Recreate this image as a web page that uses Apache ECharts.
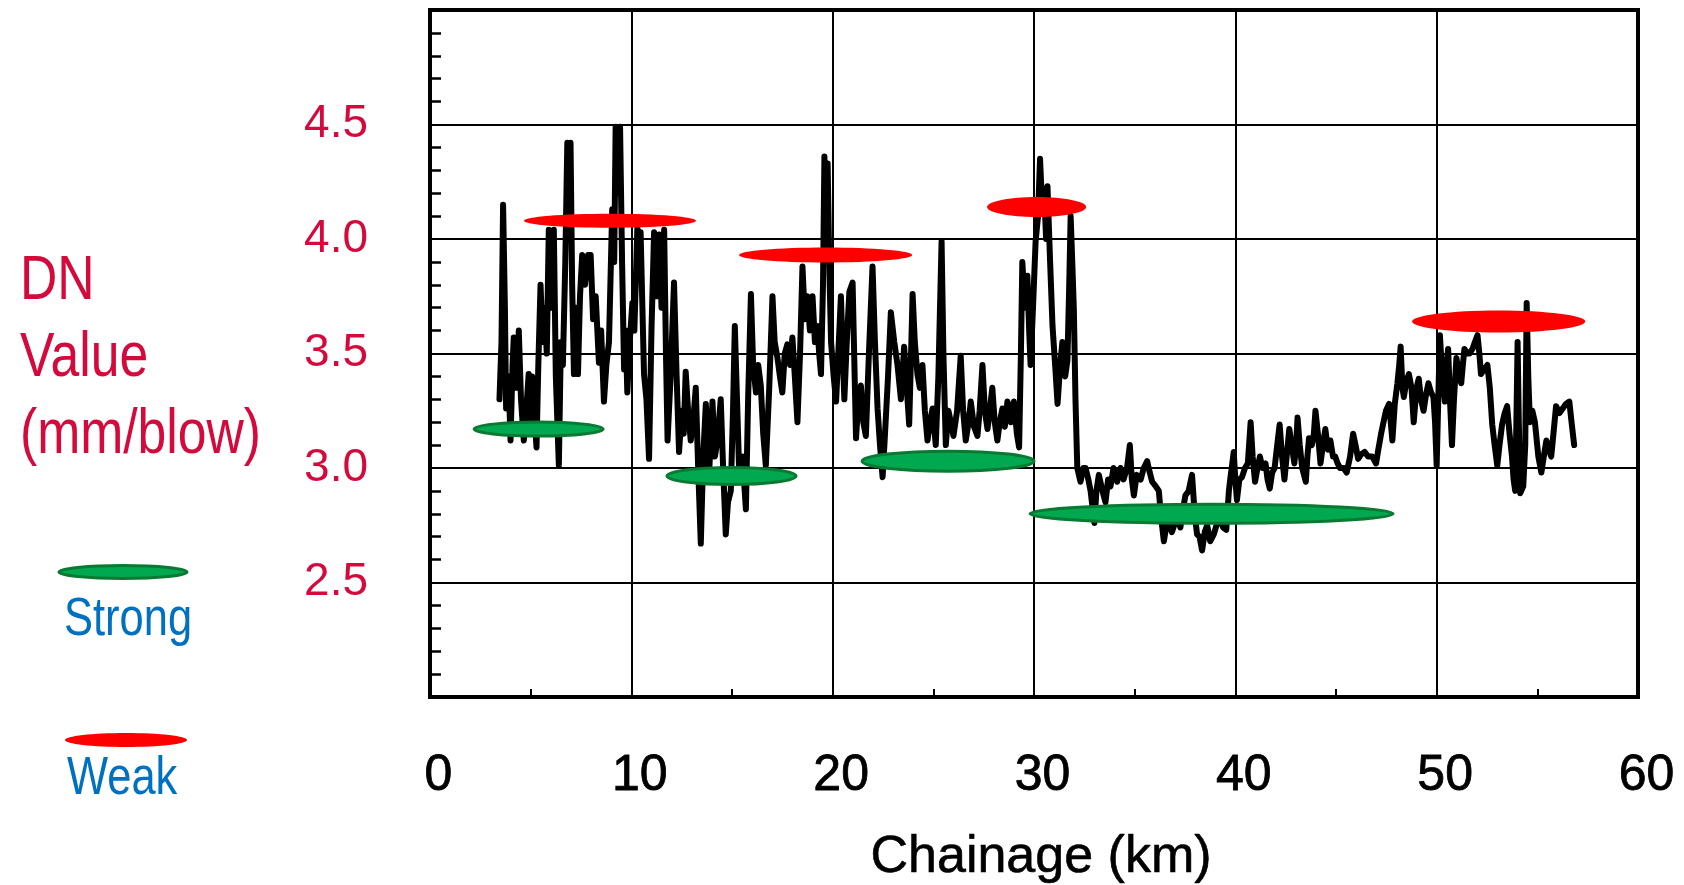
<!DOCTYPE html>
<html>
<head>
<meta charset="utf-8">
<script src="https://cdn.jsdelivr.net/npm/echarts@6/dist/echarts.min.js"></script>
<style>
html,body{margin:0;padding:0;background:#ffffff;}
#chart{width:1684px;height:885px;}
</style>
</head>
<body>
<div id="chart"></div>
<script>
// ---- data ----
const chainage = [
3.45,3.55,3.63,3.72,3.78,3.90,4.00,4.10,4.16,4.28,4.41,4.52,4.66,4.78,4.90,5.00,5.07,5.18,5.29,5.38,
5.49,5.60,5.70,5.80,5.90,6.02,6.15,6.25,6.40,6.50,6.60,6.72,6.82,6.90,6.98,7.06,7.15,7.25,7.35,7.45,
7.56,7.70,7.85,7.98,8.10,8.23,8.39,8.50,8.64,8.76,8.89,9.05,9.15,9.22,9.33,9.44,9.54,9.64,9.72,9.80,
9.92,10.05,10.15,10.30,10.38,10.46,10.55,10.63,10.75,10.88,11.00,11.13,11.25,11.38,11.50,11.63,11.72,11.80,11.95,12.12,
12.25,12.37,12.50,12.60,12.70,12.82,12.95,13.07,13.20,13.32,13.45,13.57,13.70,13.86,14.03,14.15,14.28,14.44,14.56,14.69,
14.80,14.94,15.05,15.14,15.25,15.36,15.52,15.69,15.80,15.94,16.05,16.19,16.30,16.43,16.55,16.68,16.85,17.01,17.12,17.26,
17.38,17.50,17.62,17.75,17.88,18.00,18.12,18.25,18.38,18.50,18.62,18.74,18.87,19.00,19.12,19.24,19.33,19.42,19.52,19.59,
19.67,19.75,19.84,19.92,20.05,20.17,20.28,20.41,20.50,20.58,20.70,20.83,20.99,21.16,21.28,21.40,21.52,21.65,21.80,21.98,
22.10,22.23,22.35,22.48,22.60,22.75,22.89,23.06,23.22,23.39,23.55,23.68,23.80,23.88,23.97,24.08,24.21,24.33,24.46,24.58,
24.71,24.84,24.96,25.12,25.25,25.41,25.50,25.62,25.75,25.87,26.00,26.18,26.36,26.48,26.61,26.75,26.86,27.02,27.19,27.30,
27.44,27.56,27.69,27.80,27.93,28.05,28.18,28.30,28.43,28.55,28.68,28.85,29.00,29.15,29.26,29.35,29.42,29.55,29.67,29.76,
29.83,29.95,30.08,30.20,30.30,30.40,30.50,30.60,30.67,30.80,30.92,31.05,31.17,31.30,31.41,31.55,31.66,31.75,31.82,31.90,
31.98,32.06,32.15,32.31,32.45,32.56,32.70,32.81,33.00,33.10,33.22,33.40,33.55,33.68,33.80,33.95,34.13,34.30,34.45,34.62,
34.76,34.86,34.96,35.10,35.30,35.45,35.62,35.75,35.87,36.05,36.20,36.32,36.45,36.58,36.70,36.85,37.00,37.15,37.27,37.40,
37.52,37.68,37.85,37.98,38.10,38.22,38.35,38.48,38.60,38.75,38.93,39.10,39.26,39.40,39.55,39.68,39.76,39.85,39.92,40.00,
40.08,40.20,40.33,40.48,40.62,40.76,40.86,40.98,41.10,41.22,41.35,41.50,41.60,41.71,41.83,41.95,42.08,42.20,42.32,42.44,
42.55,42.68,42.80,42.93,43.02,43.09,43.20,43.32,43.50,43.58,43.66,43.80,43.90,43.98,44.10,44.23,44.35,44.47,44.60,44.72,
44.85,44.96,45.08,45.20,45.38,45.53,45.70,45.85,45.97,46.10,46.25,46.42,46.60,46.80,46.99,47.10,47.24,47.36,47.48,47.64,
47.72,47.80,47.92,48.05,48.14,48.21,48.30,48.37,48.50,48.62,48.75,48.86,49.00,49.11,49.22,49.35,49.47,49.59,49.72,49.84,
49.92,50.00,50.08,50.16,50.28,50.41,50.49,50.57,50.66,50.76,50.86,50.98,51.10,51.22,51.30,51.38,51.50,51.63,51.78,51.90,
52.03,52.12,52.20,52.35,52.52,52.64,52.76,52.88,53.01,53.12,53.25,53.38,53.50,53.62,53.74,53.82,53.90,53.96,54.02,54.08,
54.15,54.30,54.40,54.47,54.55,54.63,54.75,54.88,55.05,55.20,55.32,55.45,55.57,55.69,55.80,55.93,56.10,56.26,56.42,56.59,
56.70,56.83
];
const dnValue = [
3.30,3.55,4.15,3.70,3.26,3.40,3.12,3.45,3.57,3.35,3.60,3.30,3.12,3.25,3.41,3.20,3.40,3.25,3.09,3.45,
3.80,3.55,3.70,3.50,4.04,3.70,4.04,3.40,3.01,3.55,3.45,3.90,4.42,4.10,4.42,3.80,3.41,3.70,3.41,3.75,
3.93,3.80,3.93,3.93,3.65,3.75,3.46,3.60,3.29,3.45,3.55,4.13,3.90,4.49,4.20,4.49,3.90,3.43,3.60,3.33,
3.55,3.72,3.60,4.05,3.85,4.03,3.70,3.41,3.30,3.04,3.60,4.03,3.75,4.02,3.70,4.04,3.50,3.12,3.40,3.81,
3.40,3.07,3.25,3.15,3.42,3.25,3.12,3.20,3.35,3.00,2.67,3.05,3.28,2.97,3.29,3.05,3.12,3.30,3.00,2.71,
2.85,2.90,3.25,3.62,3.30,2.97,3.05,2.82,3.30,3.76,3.45,3.33,3.45,3.36,3.15,3.01,3.35,3.75,3.55,3.48,
3.40,3.33,3.50,3.54,3.45,3.57,3.40,3.20,3.50,3.88,3.65,3.75,3.60,3.75,3.55,3.62,3.50,3.41,3.80,4.36,
4.00,4.33,3.85,3.55,3.40,3.29,3.50,3.75,3.50,3.30,3.55,3.77,3.81,3.13,3.30,3.36,3.20,3.14,3.50,3.88,
3.55,3.26,3.10,2.96,3.15,3.40,3.68,3.55,3.45,3.30,3.53,3.35,3.19,3.45,3.76,3.55,3.41,3.35,3.45,3.25,
3.12,3.20,3.26,3.10,3.40,3.99,3.50,3.10,3.25,3.20,3.14,3.25,3.49,3.25,3.12,3.20,3.29,3.18,3.14,3.25,
3.45,3.25,3.17,3.25,3.35,3.20,3.12,3.20,3.26,3.18,3.29,3.20,3.29,3.15,3.09,3.50,3.90,3.70,3.84,3.60,
3.45,3.70,3.99,4.10,4.35,4.15,4.22,4.00,4.23,3.90,3.62,3.45,3.28,3.45,3.55,3.40,3.47,3.80,4.10,3.90,
3.69,3.30,3.00,2.94,3.00,3.00,2.95,2.90,2.76,2.90,2.97,2.90,2.85,2.95,2.92,3.00,2.94,3.00,2.95,3.00,
3.10,2.95,2.88,2.97,2.95,3.00,3.03,2.98,2.94,2.92,2.90,2.78,2.68,2.75,2.77,2.72,2.76,2.78,2.74,2.82,
2.88,2.90,2.97,2.80,2.71,2.70,2.64,2.72,2.75,2.68,2.71,2.76,2.77,2.74,2.73,2.90,2.96,3.02,3.07,2.95,
2.86,2.95,2.96,3.00,3.02,3.20,3.05,2.94,3.00,3.05,3.00,3.02,2.95,2.91,2.98,3.00,3.10,3.19,3.05,2.95,
3.05,3.17,3.10,3.02,3.10,3.22,3.10,3.00,2.94,3.05,3.13,3.10,3.15,3.25,3.15,3.02,3.10,3.17,3.08,3.12,
3.05,3.05,3.02,3.00,3.00,2.98,3.05,3.15,3.10,3.04,3.06,3.07,3.05,3.05,3.02,3.08,3.15,3.20,3.25,3.28,
3.20,3.12,3.28,3.37,3.45,3.53,3.35,3.31,3.38,3.41,3.35,3.20,3.35,3.39,3.30,3.25,3.32,3.37,3.33,3.31,
3.20,3.01,3.30,3.58,3.40,3.29,3.45,3.52,3.30,3.10,3.30,3.48,3.42,3.37,3.45,3.52,3.50,3.50,3.52,3.55,
3.58,3.50,3.41,3.43,3.45,3.35,3.19,3.10,3.01,3.10,3.19,3.24,3.27,3.15,3.05,2.95,2.90,3.20,3.55,3.20,
2.89,2.92,3.10,3.72,3.40,3.20,3.25,3.20,3.05,2.98,3.05,3.12,3.08,3.05,3.15,3.27,3.24,3.26,3.28,3.29,
3.20,3.10
];
// "Weak" (red) and "Strong" (green) zones: start km, end km, DN level
const weakStart  = [4.67, 15.35, 27.67, 48.78];
const weakEnd    = [13.21, 23.95, 32.59, 57.38];
const weakLevel  = [4.08, 3.93, 4.14, 3.64];
const strongStart = [2.19, 11.77, 21.46, 29.80];
const strongEnd   = [8.60, 18.18, 30.00, 47.84];
const strongLevel = [3.17, 2.965, 3.03, 2.80];
const xTickLabels = ['0','10','20','30','40','50','60'];
const yTickLabels = ['2.5','3.0','3.5','4.0','4.5'];
const yTitleLines = ['DN', 'Value', '(mm/blow)'];
const legendLabels = ['Strong', 'Weak'];

// ---- styles ----
const REG = "'Liberation Sans',Arial,Helvetica,sans-serif";
const RED_TXT = '#d40a3c';
const BLUE_TXT = '#0070c0';
const NARROW_SCALE = 0.82;
const weakHeights = [14, 15, 20, 22];
const strongHeights = [14, 17, 20, 19];

function zoneSeries(name, starts, ends, levels, heights, fill, stroke, lw) {
  return {
    type: 'custom',
    name: name,
    z: 5,
    silent: true,
    data: starts.map((s, i) => [s, ends[i], levels[i], i]),
    encode: { x: [0, 1], y: 2 },
    renderItem: function (params, api) {
      const p1 = api.coord([api.value(0), api.value(2)]);
      const p2 = api.coord([api.value(1), api.value(2)]);
      const h = heights[api.value(3)];
      return {
        type: 'ellipse',
        shape: { cx: (p1[0] + p2[0]) / 2, cy: p1[1], rx: (p2[0] - p1[0]) / 2, ry: h / 2 },
        style: { fill: fill, stroke: stroke, lineWidth: lw }
      };
    }
  };
}

const chart = echarts.init(document.getElementById('chart'), null, { renderer: 'canvas' });
chart.setOption({
  backgroundColor: '#ffffff',
  animation: false,
  grid: { left: 430, right: 46, top: 10, bottom: 188, show: true, borderColor: '#000', borderWidth: 4,
          containLabel: false, outerBoundsMode: 'none' },
  xAxis: {
    type: 'value', min: 0, max: 60, interval: 10,
    axisLine: { show: true, lineStyle: { color: '#000', width: 4 } },
    axisTick: { show: false, inside: true },
    minorTick: { show: true, splitNumber: 2, length: 8, lineStyle: { color: '#000', width: 2 } },
    splitLine: { show: true, lineStyle: { color: '#000', width: 2 } },
    axisLabel: {
      margin: 54, fontSize: 50, color: '#000', fontFamily: REG,
      textBorderColor: '#000', textBorderWidth: 0.8, padding: [0, 0, 0, 17],
      formatter: function (v) { return xTickLabels[Math.round(v / 10)] || ''; }
    },
    name: 'Chainage (km)', nameLocation: 'middle', nameGap: 135,
    nameTextStyle: { fontSize: 52, color: '#000', fontFamily: REG, textBorderColor: '#000', textBorderWidth: 0.6, padding: [0, 0, 0, 14] }
  },
  yAxis: {
    type: 'value', min: 2, max: 5, interval: 0.5,
    axisLine: { show: true, lineStyle: { color: '#000', width: 4 } },
    axisTick: { show: false, inside: true },
    minorTick: { show: true, splitNumber: 5, length: 11, lineStyle: { color: '#000', width: 2.5 } },
    splitLine: { show: true, lineStyle: { color: '#000', width: 2 } },
    axisLabel: {
      margin: 62, fontSize: 46, color: RED_TXT, fontFamily: REG, padding: [8, 0, 0, 0],
      formatter: function (v) { const i = Math.round((v - 2.5) / 0.5); return (i >= 0 && i < yTickLabels.length) ? yTickLabels[i] : ''; }
    }
  },
  series: [
    {
      type: 'line', name: 'DN', z: 3,
      data: chainage.map((x, i) => [x, dnValue[i]]),
      symbol: 'none', showSymbol: false,
      lineStyle: { color: '#000', width: 6, join: 'round', cap: 'round' }
    },
    zoneSeries('Weak', weakStart, weakEnd, weakLevel, weakHeights, '#ff0000', null, 0),
    zoneSeries('Strong', strongStart, strongEnd, strongLevel, strongHeights, '#00a84f', '#0a7a33', 3)
  ],
  graphic: [
    { type: 'text', x: 20, y: 359, scaleX: NARROW_SCALE,
      style: { text: yTitleLines.join('\n'), fontSize: 63, lineHeight: 77, fontFamily: REG, fill: RED_TXT, verticalAlign: 'middle', align: 'left' } },
    { type: 'ellipse', shape: { cx: 123, cy: 572, rx: 64, ry: 6.5 }, style: { fill: '#00a84f', stroke: '#0a7a33', lineWidth: 3 } },
    { type: 'text', x: 64, y: 620, scaleX: NARROW_SCALE,
      style: { text: legendLabels[0], fontSize: 53, fontFamily: REG, fill: BLUE_TXT, verticalAlign: 'middle', align: 'left' } },
    { type: 'ellipse', shape: { cx: 126, cy: 740, rx: 61, ry: 7 }, style: { fill: '#ff0000' } },
    { type: 'text', x: 67, y: 779, scaleX: NARROW_SCALE,
      style: { text: legendLabels[1], fontSize: 53, fontFamily: REG, fill: BLUE_TXT, verticalAlign: 'middle', align: 'left' } }
  ]
});
</script>
</body>
</html>
